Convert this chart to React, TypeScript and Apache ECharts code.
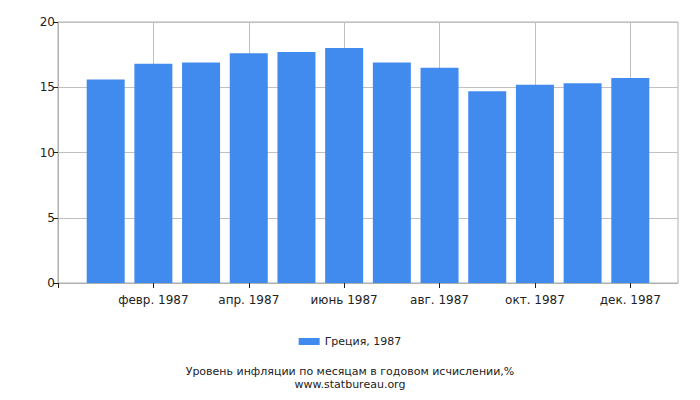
import React, { useEffect, useRef } from 'react';
import * as echarts from 'echarts';

// first and last slots are empty so that the months sit on the ticks
const months = ['', 'янв. 1987', 'февр. 1987', 'март 1987', 'апр. 1987', 'май 1987', 'июнь 1987',
  'июль 1987', 'авг. 1987', 'сент. 1987', 'окт. 1987', 'нояб. 1987', 'дек. 1987', ''];
const inflation = [null, 15.6, 16.8, 16.9, 17.6, 17.7, 18.0, 16.9, 16.5, 14.7, 15.2, 15.3, 15.7, null];
const seriesName = 'Греция, 1987';
const caption = 'Уровень инфляции по месяцам в годовом исчислении,%';
const source = 'www.statbureau.org';

const FONT = 'DejaVu Sans';
const evenTick = (i: number) => i % 2 === 0 && i < months.length - 1;

const App: React.FC = () => {
  const chartRef = useRef<HTMLDivElement>(null);

  useEffect(() => {
    if (!chartRef.current) return;
    const chart = echarts.init(chartRef.current, undefined, { renderer: 'svg' });

    chart.setOption({
      animation: false,
      backgroundColor: '#ffffff',
      textStyle: { fontFamily: FONT },
      title: [
        {
          text: caption,
          left: 'center',
          top: 361,
          textStyle: { fontFamily: FONT, fontSize: 11, fontWeight: 'normal', color: '#222' }
        },
        {
          text: source,
          left: 'center',
          top: 374,
          textStyle: { fontFamily: FONT, fontSize: 11, fontWeight: 'normal', color: '#222' }
        }
      ],
      legend: {
        top: 331,
        left: 'center',
        itemWidth: 21,
        itemHeight: 7,
        itemGap: 5,
        icon: 'rect',
        textStyle: { fontFamily: FONT, fontSize: 11, color: '#222' },
        data: [seriesName]
      },
      grid: { left: 58, right: 22, top: 22, bottom: 117, show: true, borderColor: '#b0b0b0', borderWidth: 1 },
      xAxis: {
        type: 'category',
        data: months,
        boundaryGap: false,
        axisLine: { lineStyle: { color: '#b0b0b0' } },
        axisTick: { interval: evenTick, length: 5, lineStyle: { color: '#222' } },
        axisLabel: { interval: evenTick, fontFamily: FONT, fontSize: 12, color: '#222', margin: 11 },
        splitLine: { show: true, interval: evenTick, lineStyle: { color: '#c0c0c0' } }
      },
      yAxis: {
        type: 'value',
        min: 0,
        max: 20,
        interval: 5,
        axisLine: { show: true, lineStyle: { color: '#b0b0b0' } },
        axisTick: { show: true, length: 5, lineStyle: { color: '#222' } },
        axisLabel: { fontFamily: FONT, fontSize: 12, color: '#222', margin: 3 },
        splitLine: { lineStyle: { color: '#c0c0c0' } }
      },
      series: [
        {
          name: seriesName,
          type: 'bar',
          data: inflation,
          barWidth: 38,
          itemStyle: { color: '#428bee' }
        }
      ]
    });

    return () => {
      chart.dispose();
    };
  }, []);

  return <div ref={chartRef} style={{ width: 700, height: 400, margin: -8 }} />;
};

export default App;
